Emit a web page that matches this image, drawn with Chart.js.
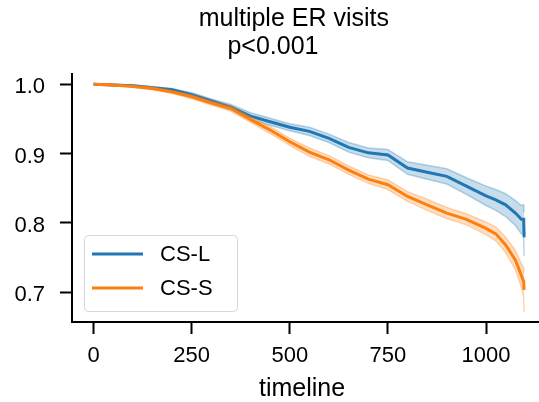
<!DOCTYPE html>
<html>
<head>
<meta charset="utf-8">
<title>multiple ER visits</title>
<script src="https://cdn.jsdelivr.net/npm/chart.js@4/dist/chart.umd.min.js"></script>
<style>
  html, body { margin: 0; padding: 0; background: #fff; overflow: hidden; }
</style>
</head>
<body>
<canvas id="chart" width="539" height="402"></canvas>
<script>
// Kaplan-Meier estimates (days since index)
const days = [0, 50, 100, 150, 200, 250, 300, 350, 400, 450, 500, 550, 600, 650, 700, 750, 800, 850, 900, 950, 1000, 1025, 1050, 1075, 1090, 1096, 1097];

// CS-L survival and its confidence band
const csL      = [1.000, 0.999, 0.998, 0.995, 0.992, 0.985, 0.976, 0.967, 0.954, 0.946, 0.938, 0.932, 0.922, 0.909, 0.901, 0.898, 0.879, 0.873, 0.867, 0.853, 0.839, 0.833, 0.826, 0.814, 0.805, 0.805, 0.779];
const csLUpper = [1.000, 1.000, 0.999, 0.997, 0.994, 0.988, 0.979, 0.971, 0.959, 0.951, 0.943, 0.938, 0.928, 0.916, 0.908, 0.906, 0.888, 0.883, 0.878, 0.865, 0.853, 0.848, 0.842, 0.832, 0.825, 0.826, 0.815];
const csLLower = [1.000, 0.998, 0.997, 0.993, 0.990, 0.982, 0.973, 0.963, 0.949, 0.941, 0.933, 0.926, 0.916, 0.902, 0.894, 0.890, 0.870, 0.863, 0.856, 0.841, 0.825, 0.818, 0.809, 0.796, 0.784, 0.783, 0.752];

// CS-S survival and its confidence band
const csS      = [1.000, 0.999, 0.997, 0.994, 0.989, 0.982, 0.973, 0.965, 0.949, 0.934, 0.917, 0.902, 0.891, 0.876, 0.863, 0.855, 0.838, 0.826, 0.814, 0.805, 0.792, 0.784, 0.768, 0.746, 0.724, 0.715, 0.703];
const csSUpper = [1.000, 1.000, 0.998, 0.996, 0.991, 0.985, 0.976, 0.969, 0.953, 0.939, 0.922, 0.908, 0.897, 0.882, 0.869, 0.862, 0.845, 0.834, 0.822, 0.813, 0.801, 0.794, 0.779, 0.760, 0.741, 0.735, 0.727];
const csSLower = [1.000, 0.998, 0.996, 0.992, 0.987, 0.979, 0.970, 0.961, 0.945, 0.929, 0.912, 0.896, 0.885, 0.870, 0.857, 0.848, 0.831, 0.818, 0.806, 0.797, 0.783, 0.774, 0.757, 0.732, 0.707, 0.694, 0.671];

// tick labels
const xTicks = [0, 250, 500, 750, 1000];
const yTicks = [0.7, 0.8, 0.9, 1.0];

const BLUE = '#1f77b4';
const ORANGE = '#ff7f0e';

Chart.defaults.font.family = '"Liberation Sans", Arial, Helvetica, sans-serif';
Chart.defaults.color = '#000';

// pair each value with its day
const toPoints = arr => days.map((d, i) => ({ x: d, y: arr[i] }));

// matplotlib-style legend with a rounded frame in the lower left corner
const frameLegend = {
    id: 'frameLegend',
    afterDraw(chart) {
        const { ctx, chartArea } = chart;
        const items = chart.data.datasets.filter(ds => ds.label);
        const w = 153, h = 76;
        const x = chartArea.left + 12;
        const y = chartArea.bottom - 11 - h;
        ctx.save();
        ctx.beginPath();
        ctx.roundRect(x + 0.5, y + 0.5, w, h, 4);
        ctx.fillStyle = 'rgba(255,255,255,0.8)';
        ctx.fill();
        ctx.strokeStyle = '#d6d6d6';
        ctx.lineWidth = 1;
        ctx.stroke();
        ctx.font = '22px "Liberation Sans", Arial, sans-serif';
        ctx.textBaseline = 'middle';
        ctx.textAlign = 'left';
        items.forEach((ds, i) => {
            const cy = y + 19 + i * 34;
            ctx.strokeStyle = ds.borderColor;
            ctx.lineWidth = 3;
            ctx.beginPath();
            ctx.moveTo(x + 8, cy);
            ctx.lineTo(x + 59, cy);
            ctx.stroke();
            ctx.fillStyle = '#000';
            ctx.fillText(ds.label, x + 76, cy + 1);
        });
        ctx.restore();
    }
};

// band edge + fill helpers
function band(values, color, edge, fill, order) {
    return {
        data: toPoints(values),
        borderColor: edge,
        borderWidth: 1.5,
        backgroundColor: color,
        pointRadius: 0,
        fill: fill,
        order: order
    };
}

const ctx = document.getElementById('chart').getContext('2d');
new Chart(ctx, {
    type: 'line',
    data: {
        datasets: [
            band(csLUpper, 'rgba(31,119,180,0.25)', 'rgba(31,119,180,0.3)', false, 4),
            band(csLLower, 'rgba(31,119,180,0.25)', 'rgba(31,119,180,0.3)', '-1', 4),
            band(csSUpper, 'rgba(255,127,14,0.25)', 'rgba(255,127,14,0.3)', false, 2),
            band(csSLower, 'rgba(255,127,14,0.25)', 'rgba(255,127,14,0.3)', '-1', 2),
            {
                label: 'CS-L',
                data: toPoints(csL),
                borderColor: BLUE,
                borderWidth: 3,
                pointRadius: 0,
                fill: false,
                order: 3
            },
            {
                label: 'CS-S',
                data: toPoints(csS),
                borderColor: ORANGE,
                borderWidth: 3,
                pointRadius: 0,
                fill: false,
                order: 1
            }
        ]
    },
    options: {
        responsive: false,
        animation: false,
        layout: { padding: 0 },
        plugins: {
            legend: { display: false },
            tooltip: { enabled: false },
            title: {
                display: true,
                // leading spaces push the lines right of the canvas centre, like the original
                text: ['       multiple ER visits', ' p<0.001'],
                color: '#000',
                font: { size: 25, weight: 'normal', lineHeight: 1.12 },
                padding: { top: 5, bottom: 13 }
            }
        },
        scales: {
            x: {
                type: 'linear',
                min: -55,
                max: 1135,
                afterBuildTicks: axis => { axis.ticks = xTicks.map(v => ({ value: v })); },
                afterFit: axis => { axis.height = 80; },
                ticks: {
                    font: { size: 22 },
                    color: '#000',
                    padding: 9,
                    maxRotation: 0,
                    callback: v => String(v)
                },
                grid: {
                    drawOnChartArea: false,
                    drawTicks: true,
                    tickLength: 12,
                    tickWidth: 2,
                    tickColor: '#000'
                },
                border: { display: true, color: '#000', width: 2 },
                title: {
                    display: true,
                    text: 'timeline ',
                    color: '#000',
                    font: { size: 25, lineHeight: 1 },
                    padding: { top: 0, bottom: 0 }
                }
            },
            y: {
                type: 'linear',
                min: 0.6567,
                max: 1.0149,
                afterBuildTicks: axis => { axis.ticks = yTicks.map(v => ({ value: v })); },
                afterFit: axis => { axis.width = 72; },
                ticks: {
                    font: { size: 22 },
                    color: '#000',
                    padding: 15,
                    labelOffset: 3,
                    callback: v => v.toFixed(1)
                },
                grid: {
                    drawOnChartArea: false,
                    drawTicks: true,
                    tickLength: 12,
                    tickWidth: 2,
                    tickColor: '#000'
                },
                border: { display: true, color: '#000', width: 2 }
            }
        }
    },
    plugins: [frameLegend]
});
</script>
</body>
</html>
